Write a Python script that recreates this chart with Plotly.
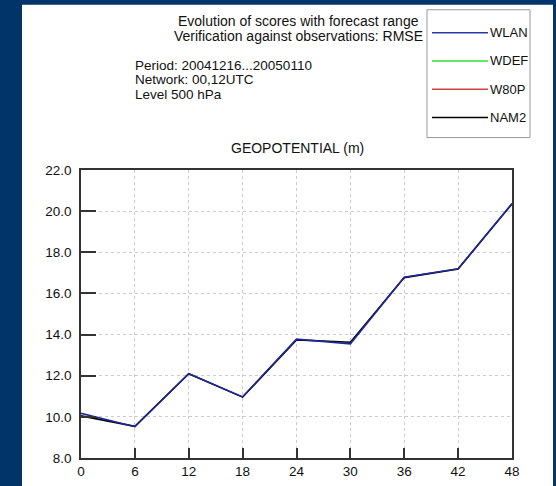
import plotly.graph_objects as go

# Forecast range (hours) and RMSE of 500 hPa geopotential (m)
ranges = [0, 6, 12, 18, 24, 30, 36, 42, 48]
wlan = [10.17, 9.52, 12.10, 10.97, 13.78, 13.55, 16.79, 17.20, 20.37]
nam2 = [10.05, 9.54, 12.10, 10.96, 13.74, 13.63, 16.77, 17.19, 20.35]
legend_names = ["WLAN", "WDEF", "W80P", "NAM2"]
legend_colors = ["#2a3aa8", "#33dd33", "#cc4444", "#000000"]
y_ticks = [8, 10, 12, 14, 16, 18, 20, 22]

W, H = 556, 486
L, R, T, B = 81, 512, 169.5, 458

def px(x):
    return (x - L) / (R - L)

def py(y):
    return (B - y) / (B - T)

FONT = "Liberation Sans, Arial, Helvetica, sans-serif"

fig = go.Figure()
fig.add_trace(go.Scatter(x=ranges, y=nam2, mode="lines",
                         line=dict(color="#000000", width=1.6), showlegend=False))
fig.add_trace(go.Scatter(x=ranges, y=wlan, mode="lines",
                         line=dict(color="#1e2896", width=1.6), showlegend=False))

shapes = [
    # white page panel
    dict(type="rect", xref="paper", yref="paper", x0=px(22), x1=px(553), y0=py(487), y1=py(4),
         fillcolor="white", line=dict(width=0), layer="below"),
    # legend frame
    dict(type="rect", xref="paper", yref="paper", x0=px(427), x1=px(530), y0=py(137), y1=py(9),
         fillcolor="white", line=dict(color="#999999", width=1)),
]
annotations = []
for i, (name, col) in enumerate(zip(legend_names, legend_colors)):
    yy = 32 + i * 28.3
    shapes.append(dict(type="line", xref="paper", yref="paper", x0=px(432), x1=px(488),
                       y0=py(yy), y1=py(yy), line=dict(color=col, width=1.5)))
    annotations.append(dict(text=name, xref="paper", yref="paper", x=px(487.5), y=py(yy),
                            xanchor="left", yanchor="middle", showarrow=False,
                            font=dict(size=13, color="#111", family=FONT)))

header = [
    ("Evolution of scores with forecast range", 298.5, 20),
    ("Verification against observations: RMSE", 298.5, 35),
]
for txt, x, y in header:
    annotations.append(dict(text=txt, xref="paper", yref="paper", x=px(x), y=py(y),
                            xanchor="center", yanchor="middle", showarrow=False,
                            font=dict(size=14, color="#111", family=FONT)))
info = ["Period: 20041216...20050110", "Network: 00,12UTC", "Level 500 hPa"]
for i, txt in enumerate(info):
    annotations.append(dict(text=txt, xref="paper", yref="paper", x=px(133), y=py(64.5 + i * 14.5),
                            xanchor="left", yanchor="middle", showarrow=False,
                            font=dict(size=13.5, color="#111", family=FONT)))
annotations.append(dict(text="GEOPOTENTIAL (m)", xref="paper", yref="paper", x=px(297), y=py(147),
                        xanchor="center", yanchor="middle", showarrow=False,
                        font=dict(size=14, color="#111", family=FONT)))

fig.update_layout(
    width=W, height=H,
    margin=dict(l=L, r=W - R, t=T, b=H - B, pad=0, autoexpand=False),
    paper_bgcolor="#013468",
    plot_bgcolor="white",
    font=dict(family=FONT, size=13.5, color="#111"),
    shapes=shapes,
    annotations=annotations,
    showlegend=False,
)
fig.update_xaxes(
    range=[0, 48], tickvals=ranges, ticktext=[str(v) for v in ranges],
    showgrid=True, gridcolor="#cccccc", griddash="dot", gridwidth=1,
    showline=True, linecolor="#333333", linewidth=1.5, mirror=True,
    ticks="inside", ticklen=10, tickcolor="#333333", tickwidth=1.5,
    zeroline=False, tickfont=dict(size=13.5), ticklabelstandoff=0,
    automargin=False,
)
fig.update_yaxes(
    range=[8, 22], tickvals=y_ticks, ticktext=[f"{v:.1f}" for v in y_ticks],
    showgrid=True, gridcolor="#cccccc", griddash="dot", gridwidth=1,
    showline=True, linecolor="#333333", linewidth=1.5, mirror=True,
    ticks="inside", ticklen=15, tickcolor="#333333", tickwidth=1.5,
    zeroline=False, tickfont=dict(size=13.5), ticklabelstandoff=5,
    automargin=False,
)

fig.write_html("out.html")
